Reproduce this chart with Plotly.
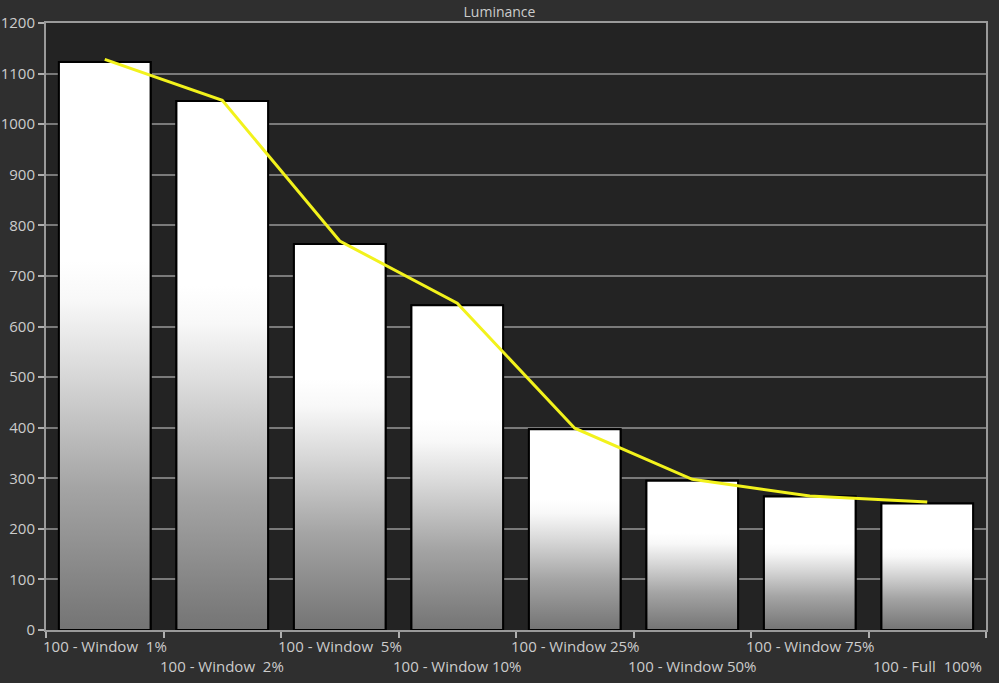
import plotly.graph_objects as go

categories = ["100 - Window\u00a0\u00a01%", "100 - Window\u00a0\u00a02%", "100 - Window\u00a0\u00a05%",
              "100 - Window 10%", "100 - Window 25%", "100 - Window 50%",
              "100 - Window 75%", "100 - Full\u00a0\u00a0100%"]
bar_values = [1123, 1046, 763, 642, 397, 295, 264, 250]
line_values = [1128, 1047, 769, 646, 399, 298, 265, 253]
y_ticks = list(range(0, 1201, 100))

BAR_W = 0.78
TEXT = "#cccccc"
GRID = "#7a7a7a"
FONT = "Open Sans"

idx = list(range(len(categories)))

fig = go.Figure()

# base bars (white with black outline)
fig.add_trace(go.Bar(x=idx, y=bar_values, width=BAR_W,
                     marker=dict(color="#ffffff", line=dict(color="#000000", width=2)),
                     hoverinfo="skip", showlegend=False))

# gradient overlay for each bar
for i, v in zip(idx, bar_values):
    fig.add_trace(go.Scatter(
        x=[i - BAR_W / 2, i + BAR_W / 2, i + BAR_W / 2, i - BAR_W / 2, i - BAR_W / 2],
        y=[0, 0, v, v, 0],
        mode="lines", fill="toself",
        line=dict(color="#000000", width=2),
        fillgradient=dict(type="vertical", start=0, stop=v,
                          colorscale=[[0, "#747474"], [0.25, "#a4a4a4"], [0.45, "#d8d8d8"],
                                      [0.58, "#f8f8f8"], [0.65, "#ffffff"], [1, "#ffffff"]]),
        hoverinfo="skip", showlegend=False))

# luminance line
fig.add_trace(go.Scatter(x=idx, y=line_values, mode="lines",
                         line=dict(color="#f2f21c", width=3),
                         hoverinfo="skip", showlegend=False))

# x labels in two alternating rows
for i, lab in zip(idx, categories):
    fig.add_annotation(x=i, xref="x", y=0, yref="paper", text=lab, showarrow=False,
                       yanchor="top", yshift=-4 if i % 2 == 0 else -24,
                       font=dict(family=FONT, size=15, color=TEXT))

n = len(categories)
fig.update_layout(
    width=999, height=683,
    margin=dict(l=46, r=13, t=23, b=53),
    paper_bgcolor="#2f2f2f", plot_bgcolor="#232323",
    title=dict(text="Luminance", x=0.5, xref="container", y=1 - 12 / 683, yref="container",
               xanchor="center", yanchor="middle",
               font=dict(family=FONT, size=14, color=TEXT)),
    font=dict(family=FONT, color=TEXT),
    bargap=0.22,
    xaxis=dict(range=[-0.5, n - 0.5], showgrid=False, zeroline=False, automargin=False,
               tickvals=[i - 0.5 for i in range(n + 1)], ticktext=[""] * (n + 1),
               ticks="outside", ticklen=6, tickcolor="#b0b0b0", tickwidth=1.5,
               showline=True, linecolor="#9a9a9a", linewidth=2, mirror=True),
    yaxis=dict(range=[0, 1200], tickvals=y_ticks, showgrid=True, gridcolor=GRID, gridwidth=1.5,
               zeroline=False, ticks="outside", ticklen=6, tickcolor="#b0b0b0", tickwidth=1.5,
               showline=True, linecolor="#9a9a9a", linewidth=2, mirror=True, automargin=False,
               tickfont=dict(family=FONT, size=15, color=TEXT)),
)

fig.write_html("out.html")
